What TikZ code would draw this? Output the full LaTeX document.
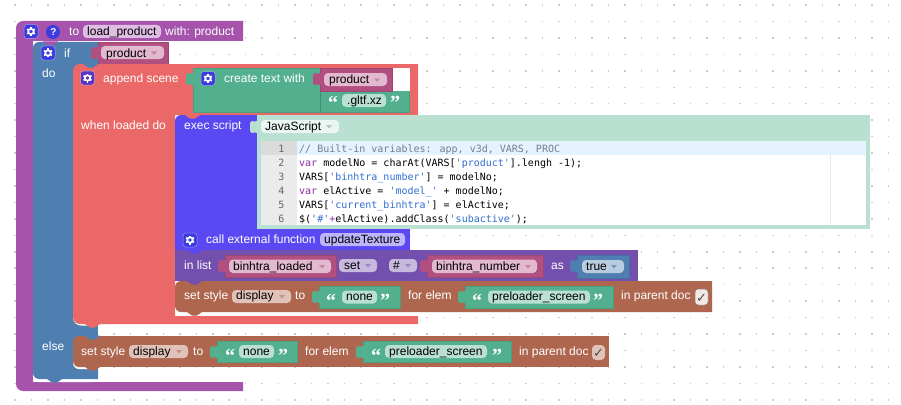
\documentclass[tikz,border=0pt]{standalone}
\usepackage{fontspec}
\setmainfont{Liberation Sans}
\newfontfamily\codefont{DejaVu Sans Mono}
\newfontfamily\quotefont{Liberation Serif}
\newfontfamily\symfont{DejaVu Sans}
\definecolor{cPurple}{HTML}{A553AB}
\definecolor{cBlue}{HTML}{4F7FB0}
\definecolor{cRed}{HTML}{EB6868}
\definecolor{cGreen}{HTML}{52B08F}
\definecolor{cIndigo}{HTML}{5A48F2}
\definecolor{cList}{HTML}{7350AD}
\definecolor{cBrown}{HTML}{AF664F}
\definecolor{cVar}{HTML}{B04F80}
\definecolor{cMint}{HTML}{BAE0D2}
\definecolor{fPurple}{HTML}{E0BDE2}
\definecolor{fVar}{HTML}{E3B9D0}
\definecolor{fGreen}{HTML}{BAE0D2}
\definecolor{fIndigo}{HTML}{BDB6FA}
\definecolor{fList}{HTML}{C7B9DE}
\definecolor{fBrown}{HTML}{E0C2B8}
\definecolor{fBlue}{HTML}{B9CCDF}
\definecolor{cIcon}{HTML}{3B3BE0}
\definecolor{cIconB}{HTML}{5A35C0}
\definecolor{cCmt}{HTML}{708090}
\definecolor{cKey}{HTML}{8A2BA0}
\definecolor{cStr}{HTML}{2F6FD0}
\tikzset{
  wlabel/.style={anchor=base west,inner sep=0pt,text=white,font=\fontsize{12}{14}\selectfont},
  flabel/.style={anchor=base west,inner sep=0pt,text=black,font=\fontsize{12}{14}\selectfont},
  codeline/.style={anchor=base west,inner sep=0pt,text=black,font=\codefont\fontsize{10}{14}\selectfont},
  numline/.style={anchor=base east,inner sep=0pt,text=black!60,font=\codefont\fontsize{10}{14}\selectfont},
  quotemark/.style={anchor=base west,inner sep=0pt,text=white,font=\quotefont\bfseries\fontsize{20}{20}\selectfont},
}
% field: x1 x2 y1 y2 colour
\newcommand{\fieldbg}[5]{\fill[#5,rounded corners=4] (#1,#3) rectangle (#2,#4);}
\newcommand{\ddown}[3]{\fill[#3] (#1,#2) -- (#1+6,#2) -- (#1+3,#2+3.5) -- cycle;}
% value tab at left of a block: x, y top, colour
\newcommand{\tabL}[3]{\fill[#3] (#1+1,#2) -- (#1,#2) .. controls (#1-2,#2+2) and (#1-3,#2-.5) .. (#1-5,#2) .. controls (#1-7,#2+.5) and (#1-7,#2+2) .. (#1-7,#2+6) .. controls (#1-7,#2+10) and (#1-7,#2+11.5) .. (#1-5,#2+12) .. controls (#1-3,#2+12.5) and (#1-2,#2+10) .. (#1,#2+12) -- (#1+1,#2+12) -- cycle;}
% value block with thin darker outline
\newcommand{\vblock}[5]{\fill[#5,draw=#5!90!black,line width=.5pt] (#1,#3) rectangle (#2,#4);}
% statement notch: x, y, colour
\newcommand{\bump}[3]{\fill[#3] (#1,#2-.5) -- (#1,#2) .. controls (#1+2,#2) and (#1+3,#2+3.5) .. (#1+5,#2+3.5) -- (#1+10,#2+3.5) .. controls (#1+12,#2+3.5) and (#1+13,#2) .. (#1+15,#2) -- (#1+15,#2-.5) -- cycle;}
% gear icon: centre x y, colour
\newcommand{\gear}[3]{%
  \fill[#3,rounded corners=3] (#1-7,#2-7) rectangle (#1+7,#2+7);
  \draw[white,line width=.5pt,rounded corners=3,opacity=.45] (#1-7,#2-7) rectangle (#1+7,#2+7);
  \draw[white,line width=1.7pt] (#1,#2) circle[radius=2.7];
  \foreach \a in {30,90,150,210,270,330}{\draw[white,line width=1.6pt] (#1,#2) ++(\a:3) -- ++(\a:1.5);}
}
\begin{document}
\begin{tikzpicture}[x=1pt,y=-1pt]
\useasboundingbox (0,0) rectangle (901,404);
\fill[white] (0,0) rectangle (901,404);
% grid of dots
\foreach \i in {-1,...,54}{\foreach \j in {0,...,24}{
  \fill[black!20] ({15+16.48*\i-.75},{5+16.45*\j-.75}) rectangle ++(1.5,1.5);}}

% ---- purple procedure
\fill[cPurple] (243,41) -- (33,41) -- (33,382) -- (243,382) -- (243,391) [rounded corners=7] -- (16,391) -- (16,21) [sharp corners] -- (243,21) -- cycle;
\fill[white,rounded corners=6] (33,340) rectangle (98,382);
% ---- blue if
\fill[cBlue] (98,42) -- (98,64) -- (80,64) -- (80,369) -- (98,369) -- (98,379) [rounded corners=6] -- (33,379) -- (33,42) [sharp corners] -- (98,42) -- cycle;
\fill[cBlue] (73,60) rectangle (98,340);
\bump{43}{42}{cPurple}
% value pink in if
\vblock{98}{168}{42}{64}{cVar}
\tabL{98}{47}{cVar}
\fieldbg{101}{164}{46}{59}{fVar}
% ---- red append scene
\fill[white,rounded corners=8] (73,310) rectangle (98,325.5);
\fill[cRed] (418,64) -- (418,115) -- (175,115) -- (175,316) -- (418,316) -- (418,324) [rounded corners=7] -- (73,324) -- (73,64) [sharp corners] -- (418,64) -- cycle;
\fill[white] (418,312) -- (418,315.5) [rounded corners=5] -- (175,315.5) -- (175,300) [sharp corners] -- (418,300) -- cycle;
\bump{83}{64}{cBlue}
\bump{85}{324}{cRed}
% ---- create text
\vblock{193}{409}{68}{112}{cGreen}
\tabL{193}{73}{cGreen}
\fill[white] (392,67.5) rectangle (409.5,91);
\vblock{320}{392}{68}{91}{cVar}
\tabL{320}{73}{cVar}
\fieldbg{324}{387}{73}{86}{fVar}
\draw[cGreen!80!black,line width=.4pt] (320,91) -- (320,112);
\fieldbg{342}{386}{94}{107}{fGreen}
% ---- exec script
\fill[cIndigo,rounded corners=6] (175,115) rectangle (262,240);
\fill[cMint] (257,115) rectangle (870,229);
\tabL{257}{121}{cMint}
\bump{185}{115}{cRed}
\fieldbg{261}{339}{120}{133}{white!70!cMint}
\fill[white] (261,141) rectangle (866,225);
\fill[black!8] (261,141) rectangle (297,225);
\fill[black!14] (261,141) rectangle (297,155);
\fill[blue!50!cyan!10] (297,141) rectangle (866,155);
\draw[black!9,line width=.6pt] (830,155) -- (830,225);
% ---- call external
\fill[cIndigo] (175,229) rectangle (410,250);
\fieldbg{320}{405}{233}{246}{fIndigo}
% ---- in list
\fill[cList] (175,250) rectangle (638,281);
\bump{187}{250}{cIndigo}
\vblock{225}{336}{255}{277}{cVar}
\tabL{225}{260}{cVar}
\fieldbg{229}{331}{259.5}{273}{fVar}
\fieldbg{339}{377}{259}{272}{fList}
\fieldbg{389}{417}{259}{272}{fList}
\vblock{427}{543}{255}{277}{cVar}
\tabL{427}{260}{cVar}
\fieldbg{432}{537}{259.5}{273}{fVar}
\vblock{577}{629}{255}{278}{cBlue}
\tabL{577}{260}{cBlue}
\fieldbg{582}{624}{260}{273}{fBlue}
% ---- set style inner
\fill[cBrown] (712,281) -- (712,312) [rounded corners=6] -- (175,312) -- (175,281) [sharp corners] -- cycle;
\bump{187}{281}{cList}
\bump{187}{312}{cBrown}
\fieldbg{232}{291}{290}{303}{fBrown}
\vblock{319}{400}{286}{308}{cGreen}
\tabL{319}{291}{cGreen}
\fieldbg{342}{377}{290.5}{303.5}{fGreen}
\vblock{465}{613}{286}{308}{cGreen}
\tabL{465}{291}{cGreen}
\fieldbg{488}{590}{290.5}{303.5}{fGreen}
\fieldbg{695}{708}{289}{305}{white!85!cBrown}
\draw[black!45,line width=.5pt,rounded corners=3] (695,289) rectangle (708,305);
% ---- set style else
\fill[white,rounded corners=6] (73,355) rectangle (98,369);
\fill[cBrown,rounded corners=6] (73,336) rectangle (90,367);
\fill[cBrown] (82,336) rectangle (609,367);
\bump{85}{336}{cBlue}
\bump{85}{367}{cBrown}
\bump{47}{379}{cBlue}
\fieldbg{129}{188}{345}{358}{fBrown}
\vblock{217}{297}{341}{362}{cGreen}
\tabL{217}{346}{cGreen}
\fieldbg{239}{274}{345}{358}{fGreen}
\vblock{363}{511}{341}{362}{cGreen}
\tabL{363}{346}{cGreen}
\fieldbg{385}{487}{345}{358}{fGreen}
\fieldbg{592}{605}{345}{360}{fBrown}

% icons
\gear{31}{31.5}{cIcon}
\fill[cIcon] (53,32) circle[radius=7];
\gear{48}{53}{cIcon}
\gear{87.5}{78}{cIconB}
\gear{208}{78.5}{cIcon}
\gear{190}{240}{cIcon}

% dropdown arrows
\ddown{151}{51.5}{cVar!70} \ddown{374}{78.5}{cVar!70} \ddown{326}{125}{cMint!70!black!60} \ddown{319}{265}{cVar!70} \ddown{365}{264}{cList!70} \ddown{405}{264}{cList!70}
\ddown{525}{265}{cVar!70} \ddown{611}{265}{cBlue!80} \ddown{279}{295}{cBrown!70} \ddown{176}{350}{cBrown!70}

% texts
\node[wlabel,font=\bfseries\fontsize{10}{12}\selectfont] (qmark) at (50.2,35.5) {?};
\node[wlabel] (to1) at (69,36) {to};
\fieldbg{83}{161}{25}{38}{fPurple}
\node[flabel] (fname) at (87,36) {load\_product};
\node[wlabel] (with) at (165,36) {with: product};
\node[wlabel] (ifl) at (64,57.5) {if};
\node[flabel] (prod1) at (106,57) {product};
\node[wlabel] (dol) at (42,77) {do};
\node[wlabel] (app) at (103,82) {append scene};
\node[wlabel] (create) at (224,82.5) {create text with};
\node[flabel] (prod2) at (329,83.5) {product};
\node[quotemark] (q1) at (328,109) {“};
\node[flabel] (gltf) at (347,104.5) {.gltf.xz};
\node[quotemark] (q2) at (390,109) {”};
\node[wlabel] (when) at (81,129) {when loaded do};
\node[wlabel] (exec) at (184,129) {exec script};
\node[flabel] (js) at (265,130.5) {JavaScript};
\foreach \n/\y in {1/152,2/166,3/180,4/194,5/208,6/222}{\node[numline] (n\n) at (284.5,\y) {\n};}
\node[codeline,text=cCmt] (c1) at (299,152) {// Built-in variables: app, v3d, VARS, PROC};
\node[codeline] (c2) at (299,166) {\textcolor{cKey}{var} modelNo = charAt(VARS[\textcolor{cStr}{'product'}].lengh -1);};
\node[codeline] (c3) at (299,180) {VARS[\textcolor{cStr}{'binhtra\_number'}] = modelNo;};
\node[codeline] (c4) at (299,194) {\textcolor{cKey}{var} elActive = \textcolor{cStr}{'model\_'} + modelNo;};
\node[codeline] (c5) at (299,208) {VARS[\textcolor{cStr}{'current\_binhtra'}] = elActive;};
\node[codeline] (c6) at (299,222) {\$(\textcolor{cStr}{'\#'}\textcolor{cKey}{+}elActive).addClass(\textcolor{cStr}{'subactive'});};
\node[wlabel] (call) at (206,243.5) {call external function};
\node[flabel] (upd) at (324,243.5) {updateTexture};
\node[wlabel] (inl) at (184,269) {in list};
\node[flabel] (bl) at (233,270) {binhtra\_loaded};
\node[flabel] (setf) at (344,269.5) {set};
\node[flabel] (hash) at (393,269.5) {\#};
\node[flabel] (bn) at (436,270) {binhtra\_number};
\node[wlabel] (asl) at (551,269) {as};
\node[flabel] (tru) at (586,270) {true};
\node[wlabel] (ss1) at (184,299) {set style};
\node[flabel] (disp1) at (236,299.5) {display};
\node[wlabel] (to2) at (295,299) {to};
\node[quotemark] (q3) at (326,307) {“};
\node[flabel] (none1) at (346,300.5) {none};
\node[quotemark] (q4) at (380,307) {”};
\node[wlabel] (fe1) at (408,299) {for elem};
\node[quotemark] (q5) at (472,307) {“};
\node[flabel] (pre1) at (492,300.5) {preloader\_screen};
\node[quotemark] (q6) at (593,307) {”};
\node[wlabel] (ip1) at (621,299) {in parent doc};
\node[anchor=base,inner sep=0pt,text=black!70,font=\symfont\fontsize{13}{14}\selectfont] (chk1) at (701.5,302) {✓};
\node[wlabel] (els) at (42,350) {else};
\node[wlabel] (ss2) at (81,355) {set style};
\node[flabel] (disp2) at (133,355) {display};
\node[wlabel] (to3) at (193,355) {to};
\node[quotemark] (q7) at (225,362) {“};
\node[flabel] (none2) at (243,355.5) {none};
\node[quotemark] (q8) at (278,362) {”};
\node[wlabel] (fe2) at (305,355) {for elem};
\node[quotemark] (q9) at (371,362) {“};
\node[flabel] (pre2) at (389,355.5) {preloader\_screen};
\node[quotemark] (q10) at (492,362) {”};
\node[wlabel] (ip2) at (519,355) {in parent doc};
\node[anchor=base,inner sep=0pt,text=black!70,font=\symfont\fontsize{13}{14}\selectfont] (chk2) at (598.5,357) {✓};
\end{tikzpicture}
\end{document}
